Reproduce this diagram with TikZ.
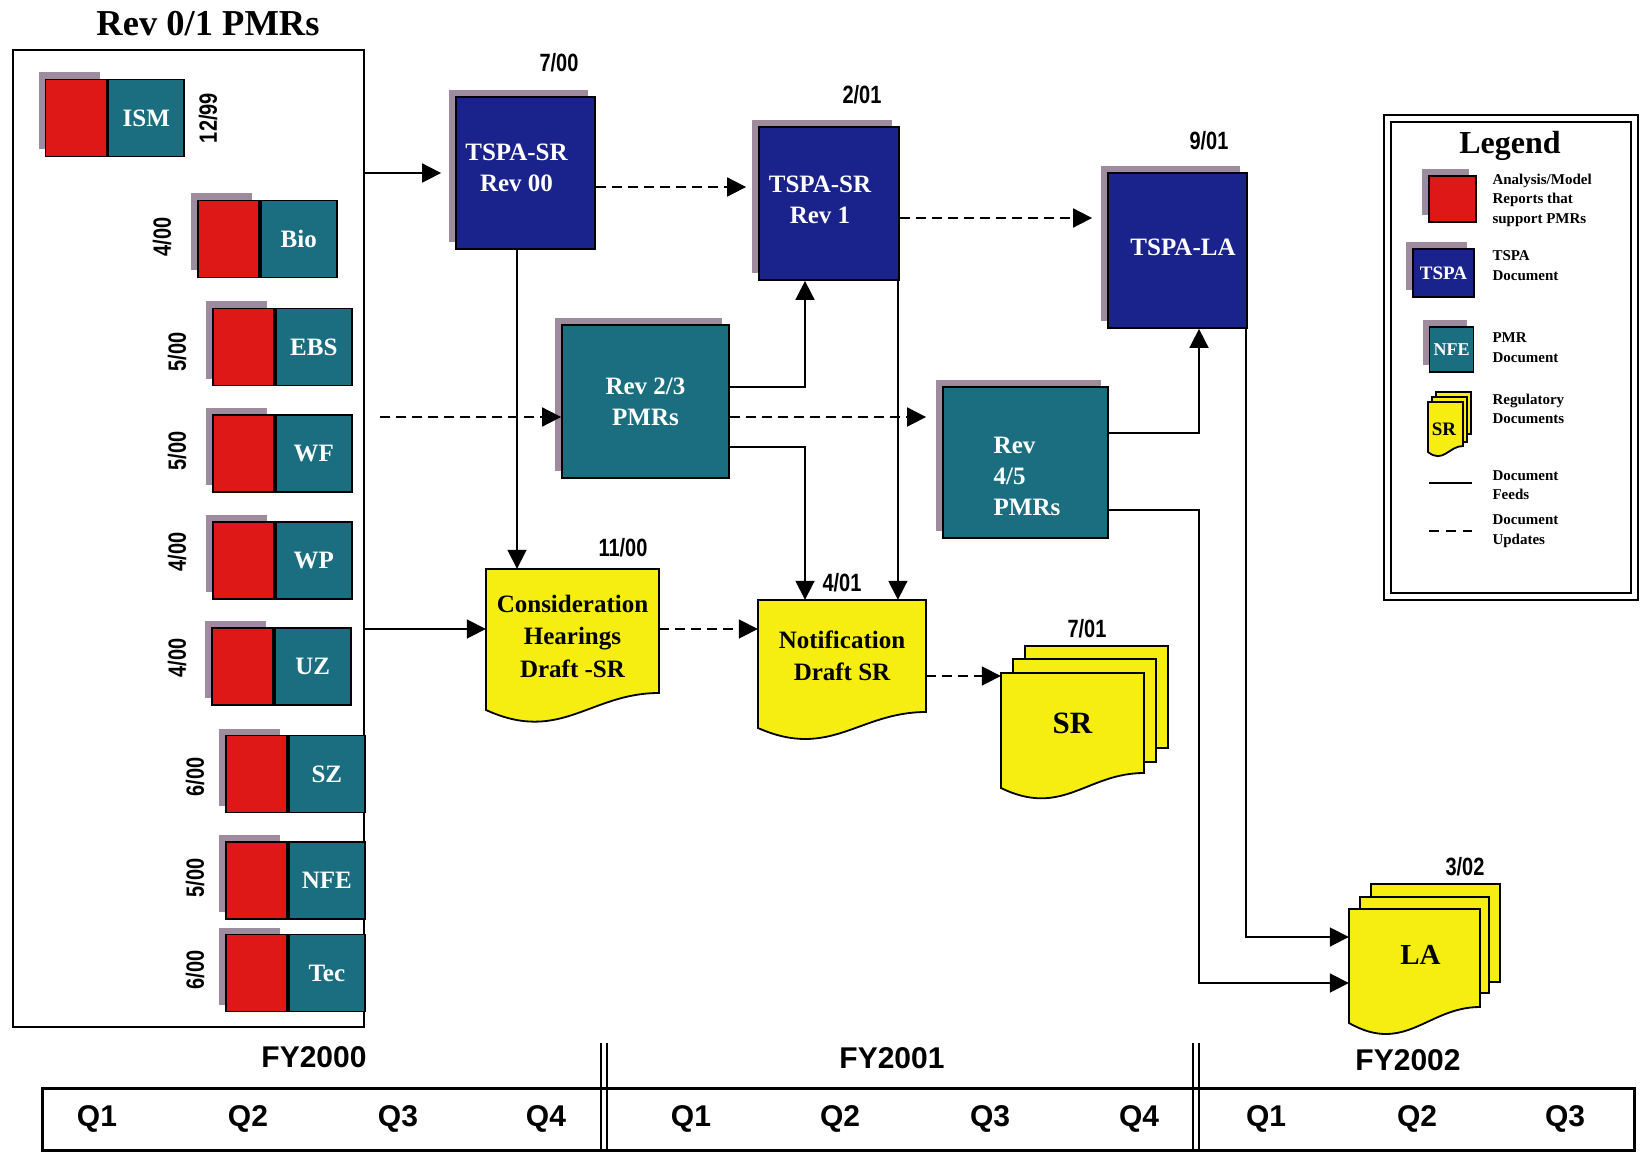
\documentclass[tikz,border=0pt]{standalone}
\usepackage{fontspec}
\setmainfont{Liberation Serif}
\newfontfamily\datefont[FakeStretch=0.8]{Liberation Sans}
\newfontfamily\qfont{Liberation Sans}
\usetikzlibrary{arrows.meta,shadows}

\definecolor{pmrred}{RGB}{222,24,22}
\definecolor{pmrteal}{RGB}{26,110,128}
\definecolor{tspanavy}{RGB}{26,34,140}
\definecolor{docyellow}{RGB}{246,238,16}
\definecolor{shadowgray}{RGB}{158,140,158}

% yellow document page: left, top, right, bottom (left edge), wave height
\newcommand{\docpage}[5]{%
  \draw[docline] (#1,#2) -- (#3,#2) -- (#3,{#4-#5})
    .. controls ({#3-0.4*(#3-#1)},{#4-#5}) and ({#3-0.57*(#3-#1)},{#4+2*#5}) .. (#1,#4) -- cycle;}

\begin{document}
\begin{tikzpicture}[x=1pt, y=-1pt, >={Triangle[length=19pt,width=19pt]},
    feed/.style={->, line width=1.8pt},
    upd/.style={feed, dash pattern=on 10pt off 6pt},
    backshadow/.style={drop shadow={shadow xshift=-7pt, shadow yshift=7pt, opacity=1, fill=shadowgray}},
    boxtxt/.style={text=white, font=\bfseries\fontsize{25}{31}\selectfont, align=center},
    doctxt/.style={text=black, font=\bfseries\fontsize{25}{32.5}\selectfont, align=center, inner sep=0pt},
    datetxt/.style={font=\datefont\bfseries\fontsize{25}{30}\selectfont},
    qtxt/.style={font=\qfont\bfseries\fontsize{30}{36}\selectfont},
    legtxt/.style={font=\bfseries\fontsize{15}{19.5}\selectfont, align=left, anchor=west},
    docline/.style={draw=black, line width=1.8pt, fill=docyellow},
    redpart/.style={draw, line width=1.8pt, fill=pmrred, minimum width=61pt, minimum height=77pt, backshadow},
    tealpart/.style={draw, line width=1.8pt, fill=pmrteal, minimum width=76pt, minimum height=77pt, boxtxt},
    tspabox/.style={draw, line width=1.8pt, fill=tspanavy, backshadow, boxtxt},
    pmrbox/.style={draw, line width=1.8pt, fill=pmrteal, backshadow, boxtxt}]
    \useasboundingbox (0,0) rectangle (1641,1158);

    % Rev 0/1 PMRs
    \node[font=\bfseries\fontsize{36.5}{42}\selectfont] (title) at (208,24) {Rev 0/1 PMRs};
    \node[draw, line width=2pt, minimum width=351pt, minimum height=977pt, inner sep=0pt] (rev01) at (188.5,538.5) {};

    \node[redpart] (ismr) at (76,118) {};
    \node[tealpart, anchor=west] (ism) at (ismr.east) {ISM};
    \node[datetxt, rotate=90] (dism) at (208,118) {12/99};

    \node[redpart] (bior) at (228.5,239) {};
    \node[tealpart, anchor=west] (bio) at (bior.east) {Bio};
    \node[datetxt, rotate=90] (dbio) at (162,237) {4/00};

    \node[redpart] (ebsr) at (243.5,347) {};
    \node[tealpart, anchor=west] (ebs) at (ebsr.east) {EBS};
    \node[datetxt, rotate=90] (debs) at (177,352) {5/00};

    \node[redpart] (wfr) at (243.5,453.5) {};
    \node[tealpart, anchor=west] (wf) at (wfr.east) {WF};
    \node[datetxt, rotate=90] (dwf) at (177,451) {5/00};

    \node[redpart] (wpr) at (243.5,560.5) {};
    \node[tealpart, anchor=west] (wp) at (wpr.east) {WP};
    \node[datetxt, rotate=90] (dwp) at (177,552) {4/00};

    \node[redpart] (uzr) at (242.5,666.5) {};
    \node[tealpart, anchor=west] (uz) at (uzr.east) {UZ};
    \node[datetxt, rotate=90] (duz) at (177,658) {4/00};

    \node[redpart] (szr) at (256.5,774) {};
    \node[tealpart, anchor=west] (sz) at (szr.east) {SZ};
    \node[datetxt, rotate=90] (dsz) at (195,777) {6/00};

    \node[redpart] (nfer) at (256.5,880.5) {};
    \node[tealpart, anchor=west] (nfe) at (nfer.east) {NFE};
    \node[datetxt, rotate=90] (dnfe) at (195,878) {5/00};

    \node[redpart] (tecr) at (256.5,973) {};
    \node[tealpart, anchor=west] (tec) at (tecr.east) {Tec};
    \node[datetxt, rotate=90] (dtec) at (195,970) {6/00};

    % TSPA documents
    \node[tspabox, minimum width=139pt, minimum height=152pt] (sr0) at (525.5,173) {};
    \node[boxtxt] (sr0txt) at ([xshift=-9pt,yshift=5pt]sr0.center) {TSPA-SR\\Rev 00};
    \node[datetxt] (dsr0) at (559,63) {7/00};
    \node[tspabox, minimum width=140pt, minimum height=153pt] (sr1) at (829,203.5) {};
    \node[boxtxt] (sr1txt) at ([xshift=-9pt,yshift=3.5pt]sr1.center) {TSPA-SR\\Rev 1};
    \node[datetxt] (dsr1) at (862,95) {2/01};
    \node[tspabox, minimum width=139pt, minimum height=155pt] (tspala) at (1177.5,250.5) {};
    \node[boxtxt] (tspalatxt) at ([xshift=5.5pt,yshift=3.5pt]tspala.center) {TSPA-LA};
    \node[datetxt] (dla) at (1209,141) {9/01};

    % later PMR revisions
    \node[pmrbox, minimum width=167pt, minimum height=153pt] (r23) at (645.5,401.5) {Rev 2/3\\PMRs};
    \node[pmrbox, minimum width=165pt, minimum height=151pt] (r45) at (1025.5,462.5) {};
    \node[boxtxt, align=left, anchor=west, inner sep=0pt] (r45txt) at ([xshift=-32pt,yshift=-14pt]r45.center) {Rev\\4/5\\PMRs};

    % regulatory documents
    \docpage{486}{569}{659}{710}{17}
    \node[doctxt, minimum width=173pt, minimum height=134pt] (cons) at (572.5,636) {Consideration\\Hearings\\Draft -SR};
    \node[datetxt] (dcons) at (623,548) {11/00};

    \docpage{758}{600}{926}{728}{16}
    \node[doctxt, minimum width=168pt, minimum height=112pt] (notif) at (842,656) {Notification\\Draft SR};
    \node[datetxt] (dnotif) at (842,583) {4/01};

    \draw[docline] (1025,646) rectangle (1168,748);
    \draw[docline] (1013,659) rectangle (1156,762);
    \docpage{1001}{673}{1144}{788}{15}
    \node[doctxt, font=\bfseries\fontsize{31}{36}\selectfont, minimum width=143pt, minimum height=100pt] (srdoc) at (1072.5,723) {SR};
    \node[datetxt] (dsr) at (1087,629) {7/01};

    \draw[docline] (1371,884) rectangle (1500,982);
    \draw[docline] (1360,897) rectangle (1489,993);
    \docpage{1349}{909}{1480}{1023}{16}
    \node[doctxt, font=\bfseries\fontsize{29}{34}\selectfont, minimum width=131pt, minimum height=92pt] (ladoc) at (1414.5,955) {};
    \node[doctxt, font=\bfseries\fontsize{29}{34}\selectfont] (ladoctxt) at ([xshift=6pt]ladoc.center) {LA};
    \node[datetxt] (dladoc) at (1465,867) {3/02};

    % ports
    \coordinate (gap) at ([xshift=15pt]rev01.east);
    \coordinate (r23in) at ([yshift=-15.5pt]r23.west);
    \coordinate (r23up) at ([yshift=14.5pt]r23.east);
    \coordinate (r23dn) at ([yshift=-45.5pt]r23.east);
    \coordinate (consin) at ([yshift=7pt]cons.west);
    \coordinate (sr0out) at ([yshift=-14pt]sr0.east);
    \coordinate (sr0dn) at ([xshift=-8.5pt]sr0.south);
    \coordinate (sr1out) at ([yshift=-14.5pt]sr1.east);
    \coordinate (sr1dn) at ([xshift=-2pt]sr1.south east);
    \coordinate (notifout) at ([yshift=-20pt]notif.east);
    \coordinate (r45up) at ([yshift=29.5pt]r45.east);
    \coordinate (r45dn) at ([yshift=-47.5pt]r45.east);
    \coordinate (laup) at ([xshift=21.5pt]tspala.south);
    \coordinate (laright) at ([xshift=-2pt]tspala.south east);
    \coordinate (lain1) at ([yshift=18pt]ladoc.west);
    \coordinate (lain2) at ([yshift=-28pt]ladoc.west);

    % document feeds
    \draw[feed, shorten >=14pt] (sr0.west -| rev01.east) -- (sr0.west);
    \draw[feed] (consin -| rev01.east) -- (consin);
    \draw[feed] (sr0dn) -- (sr0dn |- cons.north);
    \draw[feed] (r23up) -| ([xshift=-24pt]sr1.south);
    \draw[feed] (r23dn) -| ([xshift=-37pt]notif.north);
    \draw[feed] (sr1dn) -- (sr1dn |- notif.north);
    \draw[feed] (r45up) -| (laup);
    \draw[feed] (r45dn) -| (lain2 -| laup) -- (lain2);
    \draw[feed] (laright) |- (lain1);

    % document updates
    \draw[upd] (r23in -| gap) -- (r23in);
    \draw[upd, shorten >=12pt] (sr0out) -- (sr0out -| sr1.west);
    \draw[upd, shorten >=16pt] (r23in -| r23.east) -- (r23in -| r45.west);
    \draw[upd, shorten >=15pt] (sr1out) -- (sr1out -| tspala.west);
    \draw[upd] (consin -| cons.east) -- (consin -| notif.west);
    \draw[upd] (notifout) -- (notifout -| srdoc.west);

    % Legend
    \draw[line width=2.5pt] (1384,115) rectangle (1638,600);
    \draw[line width=1.5pt] (1391,122) rectangle (1631,593);
    \node[font=\bfseries\fontsize{32}{38}\selectfont] (legtitle) at (1510,146) {Legend};
    \node[draw, line width=1.8pt, fill=pmrred, backshadow, minimum width=47pt, minimum height=46pt] (legred) at (1452.5,199) {};
    \node[legtxt] (legredtxt) at (1489,200) {Analysis/Model\\Reports that\\support PMRs};
    \node[tspabox, font=\bfseries\fontsize{19}{22}\selectfont, inner sep=0pt, minimum width=61pt, minimum height=48pt] (legtspa) at (1443.5,273) {TSPA};
    \node[legtxt] (legtspatxt) at (1489,265.5) {TSPA\\Document};
    \node[pmrbox, font=\bfseries\fontsize{18}{22}\selectfont, inner sep=0pt, minimum width=44pt, minimum height=45pt] (legnfe) at (1451.5,349.5) {NFE};
    \node[legtxt] (legnfetxt) at (1489,347.5) {PMR\\Document};
    \draw[docline] (1436,392) rectangle (1471,434);
    \draw[docline] (1432,397) rectangle (1467,442);
    \docpage{1428}{402}{1463}{452}{6}
    \node[font=\bfseries\fontsize{19}{22}\selectfont] (legsr) at (1444,429) {SR};
    \node[legtxt] (legsrtxt) at (1489,409) {Regulatory\\Documents};
    \draw[line width=2pt] (1429,483) -- (1472,483);
    \node[legtxt] (legfeedtxt) at (1489,485) {Document\\Feeds};
    \draw[line width=2pt, dash pattern=on 10pt off 7pt] (1429,531) -- (1472,531);
    \node[legtxt] (legupdtxt) at (1489,531) {Document\\Updates};

    % time line
    \draw[line width=3pt] (42,1088) rectangle (1634,1150);
    \draw[line width=2pt] (601,1043) -- (601,1150) (607,1043) -- (607,1150);
    \draw[line width=2pt] (1193,1043) -- (1193,1150) (1199,1043) -- (1199,1150);
    \node[qtxt] (fy0) at (314,1057) {FY2000};
    \node[qtxt] (fy1) at (892,1058) {FY2001};
    \node[qtxt] (fy2) at (1408,1060) {FY2002};
    \node[qtxt] (q01) at (97,1119) {Q1};
    \node[qtxt] (q02) at (248,1119) {Q2};
    \node[qtxt] (q03) at (398,1119) {Q3};
    \node[qtxt] (q04) at (546,1119) {Q4};
    \node[qtxt] (q11) at (691,1119) {Q1};
    \node[qtxt] (q12) at (840,1119) {Q2};
    \node[qtxt] (q13) at (990,1119) {Q3};
    \node[qtxt] (q14) at (1139,1119) {Q4};
    \node[qtxt] (q21) at (1266,1119) {Q1};
    \node[qtxt] (q22) at (1417,1119) {Q2};
    \node[qtxt] (q23) at (1565,1119) {Q3};
\end{tikzpicture}
\end{document}
